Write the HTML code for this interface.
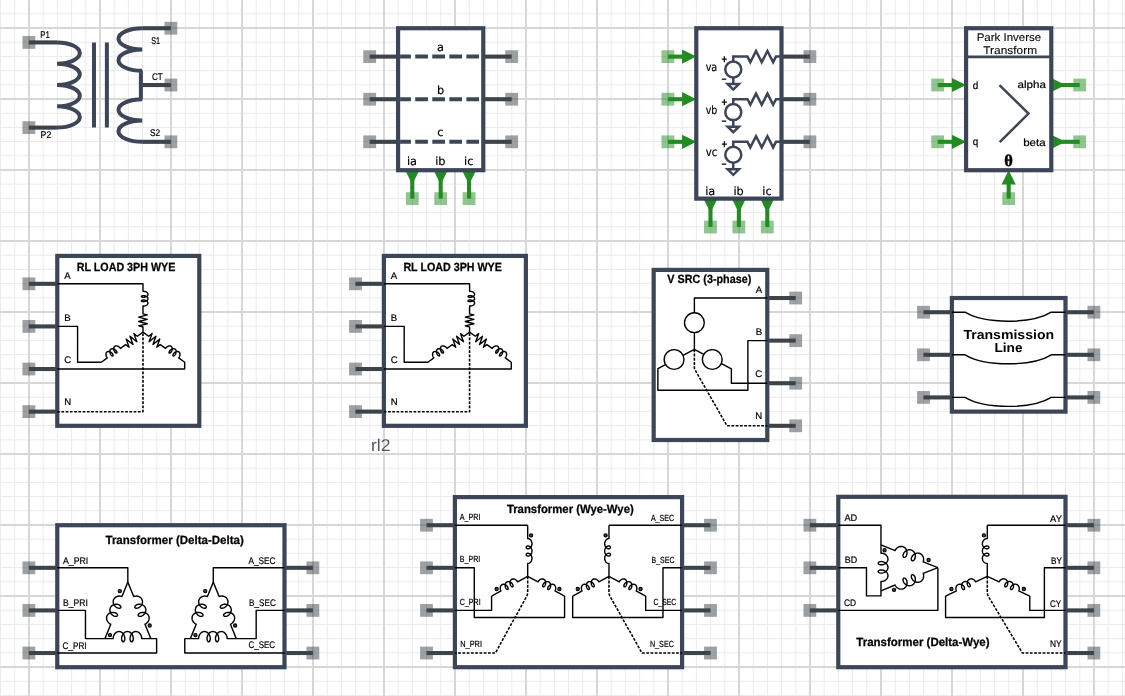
<!DOCTYPE html>
<html lang="en">
<head>
<meta charset="utf-8">
<title>Schematic components</title>
<style>
html,body{margin:0;padding:0;background:#fff;overflow:hidden}
svg{display:block;position:absolute;left:0;top:0;will-change:transform}
text{white-space:pre;text-rendering:geometricPrecision}
</style>
</head>
<body>
<svg width="1125" height="696" viewBox="0 0 1125 696">
<rect width="1125" height="696" fill="#fff"/>
<g shape-rendering="auto">
<path d="M0.6 0V696M14.8 0V696M43.2 0V696M57.4 0V696M71.6 0V696M85.8 0V696M114.2 0V696M128.4 0V696M142.6 0V696M156.8 0V696M185.2 0V696M199.4 0V696M213.6 0V696M227.8 0V696M256.2 0V696M270.4 0V696M284.6 0V696M298.8 0V696M327.2 0V696M341.4 0V696M355.6 0V696M369.8 0V696M398.2 0V696M412.4 0V696M426.6 0V696M440.8 0V696M469.2 0V696M483.4 0V696M497.6 0V696M511.8 0V696M540.2 0V696M554.4 0V696M568.6 0V696M582.8 0V696M611.2 0V696M625.4 0V696M639.6 0V696M653.8 0V696M682.2 0V696M696.4 0V696M710.6 0V696M724.8 0V696M753.2 0V696M767.4 0V696M781.6 0V696M795.8 0V696M824.2 0V696M838.4 0V696M852.6 0V696M866.8 0V696M895.2 0V696M909.4 0V696M923.6 0V696M937.8 0V696M966.2 0V696M980.4 0V696M994.6 0V696M1008.8 0V696M1037.2 0V696M1051.4 0V696M1065.6 0V696M1079.8 0V696M1108.2 0V696M1122.4 0V696M0 -0.4H1125M0 13.8H1125M0 42.2H1125M0 56.4H1125M0 70.6H1125M0 84.8H1125M0 113.2H1125M0 127.4H1125M0 141.6H1125M0 155.8H1125M0 184.2H1125M0 198.4H1125M0 212.6H1125M0 226.8H1125M0 255.2H1125M0 269.4H1125M0 283.6H1125M0 297.8H1125M0 326.2H1125M0 340.4H1125M0 354.6H1125M0 368.8H1125M0 397.2H1125M0 411.4H1125M0 425.6H1125M0 439.8H1125M0 468.2H1125M0 482.4H1125M0 496.6H1125M0 510.8H1125M0 539.2H1125M0 553.4H1125M0 567.6H1125M0 581.8H1125M0 610.2H1125M0 624.4H1125M0 638.6H1125M0 652.8H1125M0 681.2H1125M0 695.4H1125" stroke="#ebebeb" stroke-width="1" fill="none"/>
<path d="M-42 0V696M29 0V696M100 0V696M171 0V696M242 0V696M313 0V696M384 0V696M455 0V696M526 0V696M597 0V696M668 0V696M739 0V696M810 0V696M881 0V696M952 0V696M1023 0V696M1094 0V696M0 -43H1125M0 28H1125M0 99H1125M0 170H1125M0 241H1125M0 312H1125M0 383H1125M0 454H1125M0 525H1125M0 596H1125M0 667H1125" stroke="#d7d7d7" stroke-width="2" fill="none"/>
</g>
<g transform="translate(-0.12 0.22)">
<rect x="22.6" y="35.8" width="12.8" height="12.8" fill="#3c444a" fill-opacity="0.5"/>
<path d="M29 42.2L57.3 42.2" stroke="#3c444a" stroke-width="4.1" fill="none"/>
<rect x="22.6" y="121" width="12.8" height="12.8" fill="#3c444a" fill-opacity="0.5"/>
<path d="M29 127.4L57.3 127.4" stroke="#3c444a" stroke-width="4.1" fill="none"/>
<rect x="164.6" y="21.6" width="12.8" height="12.8" fill="#3c444a" fill-opacity="0.5"/>
<path d="M171 28L142.3 28" stroke="#3c444a" stroke-width="4.1" fill="none"/>
<rect x="164.6" y="78.4" width="12.8" height="12.8" fill="#3c444a" fill-opacity="0.5"/>
<path d="M171 84.8L141 84.8" stroke="#3c444a" stroke-width="4.1" fill="none"/>
<rect x="164.6" y="135.2" width="12.8" height="12.8" fill="#3c444a" fill-opacity="0.5"/>
<path d="M171 141.6L142.3 141.6" stroke="#3c444a" stroke-width="4.1" fill="none"/>
<path d="M57.2 42.2a22.7 10.65 0 0 1 0 21.3a22.7 10.65 0 0 1 0 21.3a22.7 10.65 0 0 1 0 21.3a22.7 10.65 0 0 1 0 21.3" fill="none" stroke="#3c4658" stroke-width="4.0"/>
<path d="M94.1 42.2V127.4M107 42.2V127.4" fill="none" stroke="#3c4658" stroke-width="4.0"/>
<path d="M142.4 28a23.8 10.65 0 0 0 0 21.3a23.8 10.65 0 0 0 0 21.3H141V99H142.4a23.8 10.65 0 0 0 0 21.3a23.8 10.65 0 0 0 0 21.3" fill="none" stroke="#3c4658" stroke-width="4.0" stroke-linejoin="miter"/>
<text transform="translate(40.4 37.6) scale(0.8096 1)" font-family="'Liberation Sans', sans-serif" font-size="9.7" stroke="#000" stroke-width="0.2" fill="#000">P1</text>
<text transform="translate(40.7 137.7) scale(0.9023 1)" font-family="'Liberation Sans', sans-serif" font-size="9.7" stroke="#000" stroke-width="0.2" fill="#000">P2</text>
<text transform="translate(151.3 43.8) scale(0.7505 1)" font-family="'Liberation Sans', sans-serif" font-size="9.7" stroke="#000" stroke-width="0.2" fill="#000">S1</text>
<text transform="translate(152 79.7) scale(0.8278 1)" font-family="'Liberation Sans', sans-serif" font-size="9.7" stroke="#000" stroke-width="0.2" fill="#000">CT</text>
<text transform="translate(150.2 136) scale(0.8517 1)" font-family="'Liberation Sans', sans-serif" font-size="9.7" stroke="#000" stroke-width="0.2" fill="#000">S2</text>
<rect x="363.4" y="50" width="12.8" height="12.8" fill="#3c444a" fill-opacity="0.5"/>
<path d="M369.8 56.4L398.2 56.4" stroke="#3c444a" stroke-width="4.1" fill="none"/>
<rect x="505.4" y="50" width="12.8" height="12.8" fill="#3c444a" fill-opacity="0.5"/>
<path d="M511.8 56.4L483.4 56.4" stroke="#3c444a" stroke-width="4.1" fill="none"/>
<rect x="363.4" y="92.6" width="12.8" height="12.8" fill="#3c444a" fill-opacity="0.5"/>
<path d="M369.8 99L398.2 99" stroke="#3c444a" stroke-width="4.1" fill="none"/>
<rect x="505.4" y="92.6" width="12.8" height="12.8" fill="#3c444a" fill-opacity="0.5"/>
<path d="M511.8 99L483.4 99" stroke="#3c444a" stroke-width="4.1" fill="none"/>
<rect x="363.4" y="135.2" width="12.8" height="12.8" fill="#3c444a" fill-opacity="0.5"/>
<path d="M369.8 141.6L398.2 141.6" stroke="#3c444a" stroke-width="4.1" fill="none"/>
<rect x="505.4" y="135.2" width="12.8" height="12.8" fill="#3c444a" fill-opacity="0.5"/>
<path d="M511.8 141.6L483.4 141.6" stroke="#3c444a" stroke-width="4.1" fill="none"/>
<rect x="406" y="192" width="12.8" height="12.8" fill="#228b22" fill-opacity="0.5"/>
<path d="M412.4 170L412.4 198.4" stroke="#228b22" stroke-width="4.1" fill="none"/>
<path d="M405.3 170L412.4 184.2L419.5 170Z" fill="#228b22"/>
<rect x="434.4" y="192" width="12.8" height="12.8" fill="#228b22" fill-opacity="0.5"/>
<path d="M440.8 170L440.8 198.4" stroke="#228b22" stroke-width="4.1" fill="none"/>
<path d="M433.7 170L440.8 184.2L447.9 170Z" fill="#228b22"/>
<rect x="462.8" y="192" width="12.8" height="12.8" fill="#228b22" fill-opacity="0.5"/>
<path d="M469.2 170L469.2 198.4" stroke="#228b22" stroke-width="4.1" fill="none"/>
<path d="M462.1 170L469.2 184.2L476.3 170Z" fill="#228b22"/>
<rect x="398.2" y="28" width="85.2" height="142" fill="#fff" stroke="#3c4658" stroke-width="4.2"/>
<path d="M400.2 56.4H481.4" stroke="#3c4658" stroke-width="4" stroke-dasharray="12.7 4.35" stroke-dashoffset="1.9" fill="none"/>
<text x="437.14" y="50.9" font-family="'DejaVu Sans', sans-serif" font-size="11.3" stroke="#000" stroke-width="0.18" fill="#000">a</text>
<path d="M400.2 99H481.4" stroke="#3c4658" stroke-width="4" stroke-dasharray="12.7 4.35" stroke-dashoffset="1.9" fill="none"/>
<text x="437.01" y="93.5" font-family="'DejaVu Sans', sans-serif" font-size="11.3" stroke="#000" stroke-width="0.18" fill="#000">b</text>
<path d="M400.2 141.6H481.4" stroke="#3c4658" stroke-width="4" stroke-dasharray="12.7 4.35" stroke-dashoffset="1.9" fill="none"/>
<text x="437.49" y="136.1" font-family="'DejaVu Sans', sans-serif" font-size="11.3" stroke="#000" stroke-width="0.18" fill="#000">c</text>
<text x="407.07" y="164.5" font-family="'DejaVu Sans', sans-serif" font-size="11.3" stroke="#000" stroke-width="0.18" fill="#000">ia</text>
<text x="435.34" y="164.5" font-family="'DejaVu Sans', sans-serif" font-size="11.3" stroke="#000" stroke-width="0.18" fill="#000">ib</text>
<text x="464.22" y="164.5" font-family="'DejaVu Sans', sans-serif" font-size="11.3" stroke="#000" stroke-width="0.18" fill="#000">ic</text>
<rect x="661.6" y="50" width="12.8" height="12.8" fill="#228b22" fill-opacity="0.5"/>
<path d="M668 56.4L683.2 56.4" stroke="#228b22" stroke-width="4.1" fill="none"/>
<path d="M682.2 63.5L696.4 56.4L682.2 49.3Z" fill="#228b22"/>
<rect x="803.6" y="50" width="12.8" height="12.8" fill="#3c444a" fill-opacity="0.5"/>
<path d="M810 56.4L781.6 56.4" stroke="#3c444a" stroke-width="4.1" fill="none"/>
<rect x="661.6" y="92.6" width="12.8" height="12.8" fill="#228b22" fill-opacity="0.5"/>
<path d="M668 99L683.2 99" stroke="#228b22" stroke-width="4.1" fill="none"/>
<path d="M682.2 106.1L696.4 99L682.2 91.9Z" fill="#228b22"/>
<rect x="803.6" y="92.6" width="12.8" height="12.8" fill="#3c444a" fill-opacity="0.5"/>
<path d="M810 99L781.6 99" stroke="#3c444a" stroke-width="4.1" fill="none"/>
<rect x="661.6" y="135.2" width="12.8" height="12.8" fill="#228b22" fill-opacity="0.5"/>
<path d="M668 141.6L683.2 141.6" stroke="#228b22" stroke-width="4.1" fill="none"/>
<path d="M682.2 148.7L696.4 141.6L682.2 134.5Z" fill="#228b22"/>
<rect x="803.6" y="135.2" width="12.8" height="12.8" fill="#3c444a" fill-opacity="0.5"/>
<path d="M810 141.6L781.6 141.6" stroke="#3c444a" stroke-width="4.1" fill="none"/>
<rect x="704.2" y="220.4" width="12.8" height="12.8" fill="#228b22" fill-opacity="0.5"/>
<path d="M710.6 198.4L710.6 226.8" stroke="#228b22" stroke-width="4.1" fill="none"/>
<path d="M703.5 198.4L710.6 212.6L717.7 198.4Z" fill="#228b22"/>
<rect x="732.6" y="220.4" width="12.8" height="12.8" fill="#228b22" fill-opacity="0.5"/>
<path d="M739 198.4L739 226.8" stroke="#228b22" stroke-width="4.1" fill="none"/>
<path d="M731.9 198.4L739 212.6L746.1 198.4Z" fill="#228b22"/>
<rect x="761" y="220.4" width="12.8" height="12.8" fill="#228b22" fill-opacity="0.5"/>
<path d="M767.4 198.4L767.4 226.8" stroke="#228b22" stroke-width="4.1" fill="none"/>
<path d="M760.3 198.4L767.4 212.6L774.5 198.4Z" fill="#228b22"/>
<rect x="696.4" y="28" width="85.2" height="170.4" fill="#fff" stroke="#3c4658" stroke-width="4.2"/>
<circle cx="733.4" cy="69.3" r="8" fill="none" stroke="#3c4658" stroke-width="2.5"/>
<path d="M733.4 61.3V56.4H747.6L750.45 62L756.15 50.8L761.85 62L767.55 50.8L773.25 62L776.1 56.4H781.6" fill="none" stroke="#3c4658" stroke-width="2.5" stroke-linejoin="miter"/>
<path d="M733.4 77.3V84.1" fill="none" stroke="#3c4658" stroke-width="2.5"/>
<path d="M727.8 83.9H739L733.4 89.4Z" fill="#fff" stroke="#3c4658" stroke-width="2.5" stroke-linejoin="miter"/>
<text transform="translate(721.65 63.06) scale(0.8400 1)" font-family="'Liberation Sans', sans-serif" font-size="11.6" font-weight="bold" stroke="#000" stroke-width="0.15" fill="#000">+</text>
<text transform="translate(721.7 82.35) scale(0.7368 1)" font-family="'Liberation Sans', sans-serif" font-size="11.6" font-weight="bold" stroke="#000" stroke-width="0.15" fill="#000">−</text>
<text transform="translate(705.8 70.7) scale(0.8299 1)" font-family="'DejaVu Sans', sans-serif" font-size="11.6" stroke="#000" stroke-width="0.2" fill="#000">va</text>
<circle cx="733.4" cy="111.9" r="8" fill="none" stroke="#3c4658" stroke-width="2.5"/>
<path d="M733.4 103.9V99H747.6L750.45 104.6L756.15 93.4L761.85 104.6L767.55 93.4L773.25 104.6L776.1 99H781.6" fill="none" stroke="#3c4658" stroke-width="2.5" stroke-linejoin="miter"/>
<path d="M733.4 119.9V126.7" fill="none" stroke="#3c4658" stroke-width="2.5"/>
<path d="M727.8 126.5H739L733.4 132Z" fill="#fff" stroke="#3c4658" stroke-width="2.5" stroke-linejoin="miter"/>
<text transform="translate(721.65 105.66) scale(0.8400 1)" font-family="'Liberation Sans', sans-serif" font-size="11.6" font-weight="bold" stroke="#000" stroke-width="0.15" fill="#000">+</text>
<text transform="translate(721.7 124.95) scale(0.7368 1)" font-family="'Liberation Sans', sans-serif" font-size="11.6" font-weight="bold" stroke="#000" stroke-width="0.15" fill="#000">−</text>
<text transform="translate(705.8 113.3) scale(0.8147 1)" font-family="'DejaVu Sans', sans-serif" font-size="11.6" stroke="#000" stroke-width="0.2" fill="#000">vb</text>
<circle cx="733.4" cy="154.5" r="8" fill="none" stroke="#3c4658" stroke-width="2.5"/>
<path d="M733.4 146.5V141.6H747.6L750.45 147.2L756.15 136L761.85 147.2L767.55 136L773.25 147.2L776.1 141.6H781.6" fill="none" stroke="#3c4658" stroke-width="2.5" stroke-linejoin="miter"/>
<path d="M733.4 162.5V169.3" fill="none" stroke="#3c4658" stroke-width="2.5"/>
<path d="M727.8 169.1H739L733.4 174.6Z" fill="#fff" stroke="#3c4658" stroke-width="2.5" stroke-linejoin="miter"/>
<text transform="translate(721.65 148.26) scale(0.8400 1)" font-family="'Liberation Sans', sans-serif" font-size="11.6" font-weight="bold" stroke="#000" stroke-width="0.15" fill="#000">+</text>
<text transform="translate(721.7 167.55) scale(0.7368 1)" font-family="'Liberation Sans', sans-serif" font-size="11.6" font-weight="bold" stroke="#000" stroke-width="0.15" fill="#000">−</text>
<text transform="translate(705.8 155.9) scale(0.8753 1)" font-family="'DejaVu Sans', sans-serif" font-size="11.6" stroke="#000" stroke-width="0.2" fill="#000">vc</text>
<text x="705.27" y="194.8" font-family="'DejaVu Sans', sans-serif" font-size="11.3" stroke="#000" stroke-width="0.18" fill="#000">ia</text>
<text x="733.54" y="194.8" font-family="'DejaVu Sans', sans-serif" font-size="11.3" stroke="#000" stroke-width="0.18" fill="#000">ib</text>
<text x="762.42" y="194.8" font-family="'DejaVu Sans', sans-serif" font-size="11.3" stroke="#000" stroke-width="0.18" fill="#000">ic</text>
<rect x="931.4" y="78.4" width="12.8" height="12.8" fill="#228b22" fill-opacity="0.5"/>
<path d="M937.8 84.8L953 84.8" stroke="#228b22" stroke-width="4.1" fill="none"/>
<path d="M952 91.9L966.2 84.8L952 77.7Z" fill="#228b22"/>
<rect x="1073.4" y="78.4" width="12.8" height="12.8" fill="#228b22" fill-opacity="0.5"/>
<path d="M1051.4 84.8L1079.8 84.8" stroke="#228b22" stroke-width="4.1" fill="none"/>
<path d="M1051.4 91.9L1065.6 84.8L1051.4 77.7Z" fill="#228b22"/>
<rect x="931.4" y="135.2" width="12.8" height="12.8" fill="#228b22" fill-opacity="0.5"/>
<path d="M937.8 141.6L953 141.6" stroke="#228b22" stroke-width="4.1" fill="none"/>
<path d="M952 148.7L966.2 141.6L952 134.5Z" fill="#228b22"/>
<rect x="1073.4" y="135.2" width="12.8" height="12.8" fill="#228b22" fill-opacity="0.5"/>
<path d="M1051.4 141.6L1079.8 141.6" stroke="#228b22" stroke-width="4.1" fill="none"/>
<path d="M1051.4 148.7L1065.6 141.6L1051.4 134.5Z" fill="#228b22"/>
<rect x="1002.4" y="192" width="12.8" height="12.8" fill="#228b22" fill-opacity="0.5"/>
<path d="M1008.8 198.4L1008.8 183.2" stroke="#228b22" stroke-width="4.1" fill="none"/>
<path d="M1015.9 184.2L1008.8 170L1001.7 184.2Z" fill="#228b22"/>
<rect x="966.2" y="28" width="85.2" height="142" fill="#fff" stroke="#3c4658" stroke-width="4.2"/>
<path d="M966.2 56.6H1051.4" stroke="#3c4658" stroke-width="2.8" fill="none"/>
<path d="M999.6 85L1028.6 113.3L999.8 142" stroke="#3c4658" stroke-width="2.5" fill="none" stroke-linejoin="miter"/>
<text transform="translate(976.8 41.2) scale(1.0277 1)" font-family="'Liberation Sans', sans-serif" font-size="11.2" stroke="#000" stroke-width="0.08" fill="#000">Park Inverse</text>
<text transform="translate(983.4 53.6) scale(1.0647 1)" font-family="'Liberation Sans', sans-serif" font-size="11.2" stroke="#000" stroke-width="0.08" fill="#000">Transform</text>
<text transform="translate(972.8 88.6) scale(0.9529 1)" font-family="'Liberation Sans', sans-serif" font-size="10.4" stroke="#000" stroke-width="0.2" fill="#000">d</text>
<text transform="translate(972.8 144.4) scale(0.9529 1)" font-family="'Liberation Sans', sans-serif" font-size="10.4" stroke="#000" stroke-width="0.2" fill="#000">q</text>
<text transform="translate(1017.6 87.9) scale(1.1157 1)" font-family="'Liberation Sans', sans-serif" font-size="10.4" stroke="#000" stroke-width="0.2" fill="#000">alpha</text>
<text transform="translate(1023.3 145.4) scale(1.1060 1)" font-family="'Liberation Sans', sans-serif" font-size="10.4" stroke="#000" stroke-width="0.2" fill="#000">beta</text>
<text x="1004.39" y="165.8" font-family="'Liberation Serif', serif" font-size="16.5" font-weight="bold" stroke="#000" stroke-width="0.45" fill="#000">θ</text>
<rect x="22.6" y="277.2" width="12.8" height="12.8" fill="#3c444a" fill-opacity="0.5"/>
<path d="M29 283.6L57.4 283.6" stroke="#3c444a" stroke-width="4.1" fill="none"/>
<rect x="22.6" y="319.8" width="12.8" height="12.8" fill="#3c444a" fill-opacity="0.5"/>
<path d="M29 326.2L57.4 326.2" stroke="#3c444a" stroke-width="4.1" fill="none"/>
<rect x="22.6" y="362.4" width="12.8" height="12.8" fill="#3c444a" fill-opacity="0.5"/>
<path d="M29 368.8L57.4 368.8" stroke="#3c444a" stroke-width="4.1" fill="none"/>
<rect x="22.6" y="405" width="12.8" height="12.8" fill="#3c444a" fill-opacity="0.5"/>
<path d="M29 411.4L57.4 411.4" stroke="#3c444a" stroke-width="4.1" fill="none"/>
<rect x="57.4" y="255.7" width="142" height="169.9" fill="#fff" stroke="#3c4658" stroke-width="4.2"/>
<path d="M57.4 283.6L143.1 283.6L143.1 291.1L143.1 291.1L143.7 291.08L144.33 291.14L144.99 291.26L145.64 291.46L146.26 291.72L146.82 292.05L147.3 292.43L147.68 292.87L147.94 293.33L148.08 293.82L148.09 294.32L147.97 294.81L147.72 295.28L147.35 295.72L146.89 296.11L146.34 296.45L145.73 296.72L145.08 296.92L144.42 297.06L143.78 297.12L143.18 297.11L142.64 297.04L142.19 296.92L141.84 296.75L141.61 296.56L141.51 296.34L141.53 296.12L141.69 295.91L141.97 295.72L142.37 295.57L142.86 295.47L143.43 295.43L144.05 295.45L144.71 295.55L145.36 295.71L146 295.94L146.58 296.25L147.1 296.61L147.52 297.02L147.84 297.47L148.03 297.95L148.1 298.45L148.03 298.95L147.84 299.43L147.52 299.88L147.1 300.29L146.58 300.65L146 300.96L145.36 301.19L144.71 301.35L144.05 301.45L143.43 301.47L142.86 301.43L142.37 301.33L141.97 301.18L141.69 300.99L141.53 300.78L141.51 300.56L141.61 300.34L141.84 300.15L142.19 299.98L142.64 299.86L143.18 299.79L143.78 299.78L144.42 299.84L145.08 299.98L145.73 300.18L146.34 300.45L146.89 300.79L147.35 301.18L147.72 301.62L147.97 302.09L148.09 302.58L148.08 303.08L147.94 303.57L147.68 304.03L147.3 304.47L146.82 304.85L146.26 305.18L145.64 305.44L144.99 305.64L144.33 305.76L143.7 305.82L143.1 305.8L143.1 313.6L143.1 313.6L147.4 314.7L138.8 316.9L147.4 319.1L138.8 321.3L147.4 323.5L138.8 325.7L143.1 326.8L143.1 331.9" fill="none" stroke="#000" stroke-width="1.4" stroke-linejoin="round"/>
<path d="M143.1 331.9L137.43 335.99L134 333.29L136.99 341.49L130.14 336.07L133.12 344.28L126.28 338.86L129.26 347.07L125.84 344.36L120.5 348.21L120.5 348.21L120.16 347.72L119.74 347.24L119.25 346.78L118.69 346.38L118.1 346.05L117.48 345.81L116.85 345.67L116.25 345.64L115.68 345.73L115.16 345.93L114.71 346.24L114.35 346.65L114.07 347.16L113.9 347.74L113.82 348.36L113.84 349.03L113.96 349.7L114.15 350.35L114.42 350.97L114.74 351.53L115.1 352.02L115.48 352.41L115.85 352.7L116.2 352.87L116.51 352.93L116.77 352.88L116.94 352.71L117.04 352.45L117.04 352.1L116.94 351.68L116.74 351.22L116.45 350.73L116.06 350.24L115.6 349.77L115.07 349.34L114.49 348.98L113.88 348.7L113.25 348.51L112.64 348.43L112.05 348.47L111.51 348.62L111.03 348.89L110.62 349.26L110.31 349.72L110.09 350.27L109.97 350.88L109.95 351.53L110.02 352.2L110.19 352.87L110.42 353.5L110.72 354.09L111.07 354.61L111.44 355.05L111.82 355.38L112.18 355.61L112.51 355.72L112.79 355.71L113 355.59L113.14 355.37L113.18 355.05L113.12 354.67L112.97 354.22L112.72 353.74L112.37 353.25L111.94 352.76L111.43 352.32L110.87 351.92L110.27 351.6L109.65 351.37L109.03 351.25L108.43 351.23L107.86 351.34L107.35 351.55L106.91 351.88L106.56 352.31L106.3 352.82L106.14 353.41L106.07 354.04L106.11 354.7L106.23 355.37L106.44 356.03L106.72 356.64L107.04 357.19L107.4 357.67L101.4 362L77.7 362L77.7 326.2L57.4 326.2" fill="none" stroke="#000" stroke-width="1.4" stroke-linejoin="round"/>
<path d="M143.1 331.9L148.77 335.99L152.2 333.29L149.21 341.49L156.06 336.07L153.08 344.28L159.92 338.86L156.94 347.07L160.36 344.36L165.7 348.21L165.7 348.21L166.04 347.72L166.46 347.24L166.95 346.78L167.51 346.38L168.1 346.05L168.72 345.81L169.35 345.67L169.95 345.64L170.52 345.73L171.04 345.93L171.49 346.24L171.85 346.65L172.13 347.16L172.3 347.74L172.38 348.36L172.36 349.03L172.24 349.7L172.05 350.35L171.78 350.97L171.46 351.53L171.1 352.02L170.72 352.41L170.35 352.7L170 352.87L169.69 352.93L169.43 352.88L169.26 352.71L169.16 352.45L169.16 352.1L169.26 351.68L169.46 351.22L169.75 350.73L170.14 350.24L170.6 349.77L171.13 349.34L171.71 348.98L172.32 348.7L172.95 348.51L173.56 348.43L174.15 348.47L174.69 348.62L175.17 348.89L175.58 349.26L175.89 349.72L176.11 350.27L176.23 350.88L176.25 351.53L176.18 352.2L176.01 352.87L175.78 353.5L175.48 354.09L175.13 354.61L174.76 355.05L174.38 355.38L174.02 355.61L173.69 355.72L173.41 355.71L173.2 355.59L173.06 355.37L173.02 355.05L173.08 354.67L173.23 354.22L173.48 353.74L173.83 353.25L174.26 352.76L174.77 352.32L175.33 351.92L175.93 351.6L176.55 351.37L177.17 351.25L177.77 351.23L178.34 351.34L178.85 351.55L179.29 351.88L179.64 352.31L179.9 352.82L180.06 353.41L180.13 354.04L180.09 354.7L179.97 355.37L179.76 356.03L179.48 356.64L179.16 357.19L178.8 357.67L184.8 362L184.8 368.8L57.4 368.8" fill="none" stroke="#000" stroke-width="1.4" stroke-linejoin="round"/>
<path d="M143.1 333.1V411.5H57.4" fill="none" stroke="#000" stroke-width="1.6" stroke-linejoin="round" stroke-dasharray="2.75 1.5"/>
<text transform="translate(76.9 270.7) scale(0.9001 1)" font-family="'Liberation Sans', sans-serif" font-size="11.9" font-weight="bold" stroke="#000" stroke-width="0.25" fill="#000">RL LOAD 3PH WYE</text>
<text transform="translate(64.3 278.8) scale(1.0000 1)" font-family="'Liberation Sans', sans-serif" font-size="9.6" stroke="#000" stroke-width="0.2" fill="#000">A</text>
<text transform="translate(64.3 321.1) scale(1.0000 1)" font-family="'Liberation Sans', sans-serif" font-size="9.6" stroke="#000" stroke-width="0.2" fill="#000">B</text>
<text transform="translate(64.3 362.7) scale(1.0000 1)" font-family="'Liberation Sans', sans-serif" font-size="9.6" stroke="#000" stroke-width="0.2" fill="#000">C</text>
<text transform="translate(64.3 404.5) scale(1.0000 1)" font-family="'Liberation Sans', sans-serif" font-size="9.6" stroke="#000" stroke-width="0.2" fill="#000">N</text>
<rect x="349.2" y="277.2" width="12.8" height="12.8" fill="#3c444a" fill-opacity="0.5"/>
<path d="M355.6 283.6L384 283.6" stroke="#3c444a" stroke-width="4.1" fill="none"/>
<rect x="349.2" y="319.8" width="12.8" height="12.8" fill="#3c444a" fill-opacity="0.5"/>
<path d="M355.6 326.2L384 326.2" stroke="#3c444a" stroke-width="4.1" fill="none"/>
<rect x="349.2" y="362.4" width="12.8" height="12.8" fill="#3c444a" fill-opacity="0.5"/>
<path d="M355.6 368.8L384 368.8" stroke="#3c444a" stroke-width="4.1" fill="none"/>
<rect x="349.2" y="405" width="12.8" height="12.8" fill="#3c444a" fill-opacity="0.5"/>
<path d="M355.6 411.4L384 411.4" stroke="#3c444a" stroke-width="4.1" fill="none"/>
<rect x="384" y="255.7" width="142" height="169.9" fill="#fff" stroke="#3c4658" stroke-width="4.2"/>
<path d="M384 283.6L469.7 283.6L469.7 291.1L469.7 291.1L470.3 291.08L470.93 291.14L471.59 291.26L472.24 291.46L472.86 291.72L473.42 292.05L473.9 292.43L474.28 292.87L474.54 293.33L474.68 293.82L474.69 294.32L474.57 294.81L474.32 295.28L473.95 295.72L473.49 296.11L472.94 296.45L472.33 296.72L471.68 296.92L471.02 297.06L470.38 297.12L469.78 297.11L469.24 297.04L468.79 296.92L468.44 296.75L468.21 296.56L468.11 296.34L468.13 296.12L468.29 295.91L468.57 295.72L468.97 295.57L469.46 295.47L470.03 295.43L470.65 295.45L471.31 295.55L471.96 295.71L472.6 295.94L473.18 296.25L473.7 296.61L474.12 297.02L474.44 297.47L474.63 297.95L474.7 298.45L474.63 298.95L474.44 299.43L474.12 299.88L473.7 300.29L473.18 300.65L472.6 300.96L471.96 301.19L471.31 301.35L470.65 301.45L470.03 301.47L469.46 301.43L468.97 301.33L468.57 301.18L468.29 300.99L468.13 300.78L468.11 300.56L468.21 300.34L468.44 300.15L468.79 299.98L469.24 299.86L469.78 299.79L470.38 299.78L471.02 299.84L471.68 299.98L472.33 300.18L472.94 300.45L473.49 300.79L473.95 301.18L474.32 301.62L474.57 302.09L474.69 302.58L474.68 303.08L474.54 303.57L474.28 304.03L473.9 304.47L473.42 304.85L472.86 305.18L472.24 305.44L471.59 305.64L470.93 305.76L470.3 305.82L469.7 305.8L469.7 313.6L469.7 313.6L474 314.7L465.4 316.9L474 319.1L465.4 321.3L474 323.5L465.4 325.7L469.7 326.8L469.7 331.9" fill="none" stroke="#000" stroke-width="1.4" stroke-linejoin="round"/>
<path d="M469.7 331.9L464.03 335.99L460.6 333.29L463.59 341.49L456.74 336.07L459.72 344.28L452.88 338.86L455.86 347.07L452.44 344.36L447.1 348.21L447.1 348.21L446.76 347.72L446.34 347.24L445.85 346.78L445.29 346.38L444.7 346.05L444.08 345.81L443.45 345.67L442.85 345.64L442.28 345.73L441.76 345.93L441.31 346.24L440.95 346.65L440.67 347.16L440.5 347.74L440.42 348.36L440.44 349.03L440.56 349.7L440.75 350.35L441.02 350.97L441.34 351.53L441.7 352.02L442.08 352.41L442.45 352.7L442.8 352.87L443.11 352.93L443.37 352.88L443.54 352.71L443.64 352.45L443.64 352.1L443.54 351.68L443.34 351.22L443.05 350.73L442.66 350.24L442.2 349.77L441.67 349.34L441.09 348.98L440.48 348.7L439.85 348.51L439.24 348.43L438.65 348.47L438.11 348.62L437.63 348.89L437.22 349.26L436.91 349.72L436.69 350.27L436.57 350.88L436.55 351.53L436.62 352.2L436.79 352.87L437.02 353.5L437.32 354.09L437.67 354.61L438.04 355.05L438.42 355.38L438.78 355.61L439.11 355.72L439.39 355.71L439.6 355.59L439.74 355.37L439.78 355.05L439.72 354.67L439.57 354.22L439.32 353.74L438.97 353.25L438.54 352.76L438.03 352.32L437.47 351.92L436.87 351.6L436.25 351.37L435.63 351.25L435.03 351.23L434.46 351.34L433.95 351.55L433.51 351.88L433.16 352.31L432.9 352.82L432.74 353.41L432.67 354.04L432.71 354.7L432.83 355.37L433.04 356.03L433.32 356.64L433.64 357.19L434 357.67L428 362L404.3 362L404.3 326.2L384 326.2" fill="none" stroke="#000" stroke-width="1.4" stroke-linejoin="round"/>
<path d="M469.7 331.9L475.37 335.99L478.8 333.29L475.81 341.49L482.66 336.07L479.68 344.28L486.52 338.86L483.54 347.07L486.96 344.36L492.3 348.21L492.3 348.21L492.64 347.72L493.06 347.24L493.55 346.78L494.11 346.38L494.7 346.05L495.32 345.81L495.95 345.67L496.55 345.64L497.12 345.73L497.64 345.93L498.09 346.24L498.45 346.65L498.73 347.16L498.9 347.74L498.98 348.36L498.96 349.03L498.84 349.7L498.65 350.35L498.38 350.97L498.06 351.53L497.7 352.02L497.32 352.41L496.95 352.7L496.6 352.87L496.29 352.93L496.03 352.88L495.86 352.71L495.76 352.45L495.76 352.1L495.86 351.68L496.06 351.22L496.35 350.73L496.74 350.24L497.2 349.77L497.73 349.34L498.31 348.98L498.92 348.7L499.55 348.51L500.16 348.43L500.75 348.47L501.29 348.62L501.77 348.89L502.18 349.26L502.49 349.72L502.71 350.27L502.83 350.88L502.85 351.53L502.78 352.2L502.61 352.87L502.38 353.5L502.08 354.09L501.73 354.61L501.36 355.05L500.98 355.38L500.62 355.61L500.29 355.72L500.01 355.71L499.8 355.59L499.66 355.37L499.62 355.05L499.68 354.67L499.83 354.22L500.08 353.74L500.43 353.25L500.86 352.76L501.37 352.32L501.93 351.92L502.53 351.6L503.15 351.37L503.77 351.25L504.37 351.23L504.94 351.34L505.45 351.55L505.89 351.88L506.24 352.31L506.5 352.82L506.66 353.41L506.73 354.04L506.69 354.7L506.57 355.37L506.36 356.03L506.08 356.64L505.76 357.19L505.4 357.67L511.4 362L511.4 368.8L384 368.8" fill="none" stroke="#000" stroke-width="1.4" stroke-linejoin="round"/>
<path d="M469.7 333.1V411.5H384" fill="none" stroke="#000" stroke-width="1.6" stroke-linejoin="round" stroke-dasharray="2.75 1.5"/>
<text transform="translate(403.5 270.7) scale(0.9001 1)" font-family="'Liberation Sans', sans-serif" font-size="11.9" font-weight="bold" stroke="#000" stroke-width="0.25" fill="#000">RL LOAD 3PH WYE</text>
<text transform="translate(390.9 278.8) scale(1.0000 1)" font-family="'Liberation Sans', sans-serif" font-size="9.6" stroke="#000" stroke-width="0.2" fill="#000">A</text>
<text transform="translate(390.9 321.1) scale(1.0000 1)" font-family="'Liberation Sans', sans-serif" font-size="9.6" stroke="#000" stroke-width="0.2" fill="#000">B</text>
<text transform="translate(390.9 362.7) scale(1.0000 1)" font-family="'Liberation Sans', sans-serif" font-size="9.6" stroke="#000" stroke-width="0.2" fill="#000">C</text>
<text transform="translate(390.9 404.5) scale(1.0000 1)" font-family="'Liberation Sans', sans-serif" font-size="9.6" stroke="#000" stroke-width="0.2" fill="#000">N</text>
<rect x="789.4" y="291.4" width="12.8" height="12.8" fill="#3c444a" fill-opacity="0.5"/>
<path d="M795.8 297.8L767.4 297.8" stroke="#3c444a" stroke-width="4.1" fill="none"/>
<rect x="789.4" y="334" width="12.8" height="12.8" fill="#3c444a" fill-opacity="0.5"/>
<path d="M795.8 340.4L767.4 340.4" stroke="#3c444a" stroke-width="4.1" fill="none"/>
<rect x="789.4" y="376.6" width="12.8" height="12.8" fill="#3c444a" fill-opacity="0.5"/>
<path d="M795.8 383L767.4 383" stroke="#3c444a" stroke-width="4.1" fill="none"/>
<rect x="789.4" y="419.2" width="12.8" height="12.8" fill="#3c444a" fill-opacity="0.5"/>
<path d="M795.8 425.6L767.4 425.6" stroke="#3c444a" stroke-width="4.1" fill="none"/>
<rect x="653.8" y="269.7" width="113.6" height="170.1" fill="#fff" stroke="#3c4658" stroke-width="4.2"/>
<path d="M767.4 297.8H694.5V349.1" fill="none" stroke="#000" stroke-width="1.4" stroke-linejoin="round"/>
<path d="M694.5 349.1L658 368.3V390.1H748V340.4H767.4" fill="none" stroke="#000" stroke-width="1.4" stroke-linejoin="round"/>
<path d="M694.5 349.1L731.5 368.6V383H767.4" fill="none" stroke="#000" stroke-width="1.4" stroke-linejoin="round"/>
<path d="M694.5 349.1V367.3Q694.5 368.5 695.2 369.7L727.1 425.6H767.4" fill="none" stroke="#000" stroke-width="1.55" stroke-linejoin="round" stroke-dasharray="2.84 1.42"/>
<circle cx="694.5" cy="322.5" r="9.9" fill="#fff" stroke="#000" stroke-width="1.4"/>
<circle cx="674.2" cy="359.3" r="9.9" fill="#fff" stroke="#000" stroke-width="1.4"/>
<circle cx="712.4" cy="359.3" r="9.9" fill="#fff" stroke="#000" stroke-width="1.4"/>
<text transform="translate(667.4 283) scale(0.9084 1)" font-family="'Liberation Sans', sans-serif" font-size="11.9" font-weight="bold" stroke="#000" stroke-width="0.25" fill="#000">V SRC (3-phase)</text>
<text transform="translate(755.89 292.7) scale(1.0000 1)" font-family="'Liberation Sans', sans-serif" font-size="9.6" stroke="#000" stroke-width="0.2" fill="#000">A</text>
<text transform="translate(755.89 334.6) scale(1.0000 1)" font-family="'Liberation Sans', sans-serif" font-size="9.6" stroke="#000" stroke-width="0.2" fill="#000">B</text>
<text transform="translate(755.36 376.7) scale(1.0000 1)" font-family="'Liberation Sans', sans-serif" font-size="9.6" stroke="#000" stroke-width="0.2" fill="#000">C</text>
<text transform="translate(755.36 418.5) scale(1.0000 1)" font-family="'Liberation Sans', sans-serif" font-size="9.6" stroke="#000" stroke-width="0.2" fill="#000">N</text>
<rect x="917.2" y="305.6" width="12.8" height="12.8" fill="#3c444a" fill-opacity="0.5"/>
<path d="M923.6 312L952 312" stroke="#3c444a" stroke-width="4.1" fill="none"/>
<rect x="1087.6" y="305.6" width="12.8" height="12.8" fill="#3c444a" fill-opacity="0.5"/>
<path d="M1094 312L1065.6 312" stroke="#3c444a" stroke-width="4.1" fill="none"/>
<rect x="917.2" y="348.2" width="12.8" height="12.8" fill="#3c444a" fill-opacity="0.5"/>
<path d="M923.6 354.6L952 354.6" stroke="#3c444a" stroke-width="4.1" fill="none"/>
<rect x="1087.6" y="348.2" width="12.8" height="12.8" fill="#3c444a" fill-opacity="0.5"/>
<path d="M1094 354.6L1065.6 354.6" stroke="#3c444a" stroke-width="4.1" fill="none"/>
<rect x="917.2" y="390.8" width="12.8" height="12.8" fill="#3c444a" fill-opacity="0.5"/>
<path d="M923.6 397.2L952 397.2" stroke="#3c444a" stroke-width="4.1" fill="none"/>
<rect x="1087.6" y="390.8" width="12.8" height="12.8" fill="#3c444a" fill-opacity="0.5"/>
<path d="M1094 397.2L1065.6 397.2" stroke="#3c444a" stroke-width="4.1" fill="none"/>
<rect x="952" y="297.8" width="113.6" height="113.6" fill="#fff" stroke="#3c4658" stroke-width="4.2"/>
<path d="M952 312H965.2C985 324 1032 324 1051.4 312H1065.6" fill="none" stroke="#000" stroke-width="1.4" stroke-linejoin="round"/>
<path d="M952 354.6H965.2C985 366.6 1032 366.6 1051.4 354.6H1065.6" fill="none" stroke="#000" stroke-width="1.4" stroke-linejoin="round"/>
<path d="M952 397.2H965.2C985 409.2 1032 409.2 1051.4 397.2H1065.6" fill="none" stroke="#000" stroke-width="1.4" stroke-linejoin="round"/>
<text transform="translate(963.5 338.3) scale(1.0821 1)" font-family="'Liberation Sans', sans-serif" font-size="13" font-weight="bold" fill="#000">Transmission</text>
<text transform="translate(994.5 352.1) scale(1.0518 1)" font-family="'Liberation Sans', sans-serif" font-size="13" font-weight="bold" fill="#000">Line</text>
<text transform="translate(371.1 450.9) scale(1.0311 1)" font-family="'Liberation Sans', sans-serif" font-size="17" fill="#4a5764">rl2</text>
<rect x="22.6" y="561.2" width="12.8" height="12.8" fill="#3c444a" fill-opacity="0.5"/>
<path d="M29 567.6L57.4 567.6" stroke="#3c444a" stroke-width="4.1" fill="none"/>
<rect x="306.6" y="561.2" width="12.8" height="12.8" fill="#3c444a" fill-opacity="0.5"/>
<path d="M313 567.6L284.6 567.6" stroke="#3c444a" stroke-width="4.1" fill="none"/>
<rect x="22.6" y="603.8" width="12.8" height="12.8" fill="#3c444a" fill-opacity="0.5"/>
<path d="M29 610.2L57.4 610.2" stroke="#3c444a" stroke-width="4.1" fill="none"/>
<rect x="306.6" y="603.8" width="12.8" height="12.8" fill="#3c444a" fill-opacity="0.5"/>
<path d="M313 610.2L284.6 610.2" stroke="#3c444a" stroke-width="4.1" fill="none"/>
<rect x="22.6" y="646.4" width="12.8" height="12.8" fill="#3c444a" fill-opacity="0.5"/>
<path d="M29 652.8L57.4 652.8" stroke="#3c444a" stroke-width="4.1" fill="none"/>
<rect x="306.6" y="646.4" width="12.8" height="12.8" fill="#3c444a" fill-opacity="0.5"/>
<path d="M313 652.8L284.6 652.8" stroke="#3c444a" stroke-width="4.1" fill="none"/>
<rect x="57.4" y="525" width="227.2" height="142" fill="#fff" stroke="#3c4658" stroke-width="4.2"/>
<path d="M127.95 581.9L122.11 596.31L122.11 596.31L121.25 596.04L120.3 595.88L119.3 595.85L118.29 595.97L117.29 596.23L116.35 596.64L115.49 597.19L114.74 597.86L114.13 598.65L113.68 599.53L113.4 600.48L113.3 601.47L113.38 602.48L113.62 603.47L114.03 604.42L114.57 605.29L115.22 606.07L115.96 606.74L116.75 607.28L117.56 607.68L118.35 607.93L119.09 608.03L119.75 608L120.29 607.83L120.69 607.56L120.94 607.19L121.01 606.75L120.91 606.27L120.63 605.77L120.18 605.29L119.57 604.85L118.83 604.49L117.97 604.21L117.02 604.05L116.02 604.02L115.01 604.13L114.01 604.39L113.07 604.79L112.2 605.33L111.45 606.01L110.84 606.79L110.38 607.67L110.1 608.62L109.99 609.61L110.06 610.62L110.3 611.61L110.7 612.55L111.24 613.43L111.89 614.22L112.63 614.89L113.42 615.43L114.23 615.84L115.02 616.09L115.76 616.2L116.42 616.17L116.96 616.01L117.37 615.74L117.62 615.37L117.7 614.93L117.61 614.45L117.33 613.95L116.89 613.47L116.28 613.03L115.54 612.66L114.68 612.39L113.74 612.22L112.75 612.19L111.73 612.29L110.73 612.54L109.78 612.94L108.92 613.48L108.16 614.15L107.55 614.93L107.08 615.81L106.79 616.76L106.68 617.75L106.75 618.75L106.98 619.74L107.38 620.69L107.91 621.57L108.56 622.36L109.29 623.04L110.08 623.59L110.89 623.99L105.05 638.4" fill="none" stroke="#000" stroke-width="1.4" stroke-linejoin="round"/>
<path d="M127.95 581.9L133.81 596.31L133.81 596.31L134.68 596.04L135.62 595.88L136.62 595.85L137.64 595.96L138.64 596.22L139.58 596.63L140.44 597.18L141.19 597.85L141.8 598.64L142.25 599.52L142.53 600.47L142.63 601.47L142.56 602.47L142.32 603.46L141.91 604.41L141.37 605.29L140.72 606.07L139.98 606.74L139.19 607.28L138.38 607.68L137.59 607.93L136.85 608.04L136.2 608L135.66 607.84L135.25 607.56L135.01 607.19L134.93 606.75L135.03 606.27L135.31 605.77L135.76 605.29L136.37 604.85L137.11 604.49L137.97 604.21L138.92 604.05L139.91 604.02L140.93 604.13L141.93 604.38L142.88 604.78L143.74 605.32L144.49 606L145.11 606.78L145.56 607.66L145.85 608.61L145.96 609.6L145.89 610.61L145.65 611.6L145.25 612.55L144.72 613.43L144.07 614.21L143.33 614.89L142.54 615.43L141.73 615.84L140.94 616.09L140.2 616.2L139.54 616.17L139 616.01L138.59 615.74L138.34 615.37L138.25 614.93L138.35 614.45L138.62 613.96L139.07 613.48L139.67 613.04L140.41 612.66L141.27 612.39L142.21 612.22L143.21 612.18L144.22 612.29L145.22 612.54L146.17 612.94L147.04 613.47L147.79 614.14L148.41 614.92L148.88 615.8L149.17 616.75L149.28 617.74L149.22 618.74L148.99 619.73L148.59 620.69L148.06 621.57L147.41 622.36L146.68 623.04L145.89 623.58L145.08 623.99L150.95 638.4" fill="none" stroke="#000" stroke-width="1.4" stroke-linejoin="round"/>
<path d="M105.05 638.4L113.25 638.4L113.25 638.4L113.32 637.43L113.52 636.43L113.85 635.42L114.32 634.46L114.9 633.57L115.6 632.79L116.4 632.16L117.27 631.69L118.18 631.4L119.13 631.3L120.07 631.4L120.99 631.7L121.86 632.18L122.65 632.82L123.34 633.6L123.93 634.49L124.39 635.46L124.72 636.46L124.91 637.47L124.97 638.43L124.91 639.32L124.74 640.1L124.48 640.74L124.14 641.21L123.75 641.5L123.33 641.6L122.91 641.5L122.52 641.21L122.18 640.73L121.92 640.09L121.75 639.31L121.69 638.42L121.75 637.45L121.95 636.45L122.28 635.44L122.74 634.48L123.33 633.59L124.03 632.81L124.82 632.17L125.69 631.69L126.61 631.4L127.55 631.3L128.49 631.4L129.41 631.69L130.28 632.17L131.07 632.81L131.77 633.59L132.36 634.48L132.82 635.44L133.15 636.45L133.35 637.45L133.41 638.42L133.35 639.31L133.18 640.09L132.92 640.73L132.58 641.21L132.19 641.5L131.77 641.6L131.35 641.5L130.96 641.21L130.62 640.74L130.36 640.1L130.19 639.32L130.13 638.43L130.19 637.47L130.38 636.46L130.71 635.46L131.17 634.49L131.76 633.6L132.45 632.82L133.24 632.18L134.11 631.7L135.03 631.4L135.97 631.3L136.92 631.4L137.83 631.69L138.7 632.16L139.5 632.79L140.2 633.57L140.78 634.46L141.25 635.42L141.58 636.43L141.78 637.43L141.85 638.4L150.95 638.4" fill="none" stroke="#000" stroke-width="1.4" stroke-linejoin="round"/>
<circle cx="119.9" cy="590.9" r="1.65" fill="#444" stroke="#000" stroke-width="1.05"/>
<circle cx="149.8" cy="625.3" r="1.65" fill="#444" stroke="#000" stroke-width="1.05"/>
<circle cx="110.1" cy="634.9" r="1.65" fill="#444" stroke="#000" stroke-width="1.05"/>
<path d="M57.4 567.6H127.95V581.9" fill="none" stroke="#000" stroke-width="1.4" stroke-linejoin="round"/>
<path d="M57.4 610.2H85.6V638.4H105.05" fill="none" stroke="#000" stroke-width="1.4" stroke-linejoin="round"/>
<path d="M57.4 652.8H156.75V638.4H150.95" fill="none" stroke="#000" stroke-width="1.4" stroke-linejoin="round"/>
<path d="M213.4 581.9L207.56 596.31L207.56 596.31L206.7 596.04L205.75 595.88L204.75 595.85L203.74 595.97L202.74 596.23L201.8 596.64L200.94 597.19L200.19 597.86L199.58 598.65L199.13 599.53L198.85 600.48L198.75 601.47L198.83 602.48L199.07 603.47L199.48 604.42L200.02 605.29L200.67 606.07L201.41 606.74L202.2 607.28L203.01 607.68L203.8 607.93L204.54 608.03L205.2 608L205.74 607.83L206.14 607.56L206.39 607.19L206.46 606.75L206.36 606.27L206.08 605.77L205.63 605.29L205.02 604.85L204.28 604.49L203.42 604.21L202.47 604.05L201.47 604.02L200.46 604.13L199.46 604.39L198.52 604.79L197.65 605.33L196.9 606.01L196.29 606.79L195.83 607.67L195.55 608.62L195.44 609.61L195.51 610.62L195.75 611.61L196.15 612.55L196.69 613.43L197.34 614.22L198.08 614.89L198.87 615.43L199.68 615.84L200.47 616.09L201.21 616.2L201.87 616.17L202.41 616.01L202.82 615.74L203.07 615.37L203.15 614.93L203.06 614.45L202.78 613.95L202.34 613.47L201.73 613.03L200.99 612.66L200.13 612.39L199.19 612.22L198.2 612.19L197.18 612.29L196.18 612.54L195.23 612.94L194.37 613.48L193.61 614.15L193 614.93L192.53 615.81L192.24 616.76L192.13 617.75L192.2 618.75L192.43 619.74L192.83 620.69L193.36 621.57L194.01 622.36L194.74 623.04L195.53 623.59L196.34 623.99L190.5 638.4" fill="none" stroke="#000" stroke-width="1.4" stroke-linejoin="round"/>
<path d="M213.4 581.9L219.27 596.31L219.27 596.31L220.13 596.04L221.07 595.88L222.07 595.85L223.09 595.96L224.09 596.22L225.03 596.63L225.89 597.18L226.64 597.85L227.25 598.64L227.7 599.52L227.98 600.47L228.08 601.47L228.01 602.47L227.77 603.46L227.36 604.41L226.82 605.29L226.17 606.07L225.43 606.74L224.64 607.28L223.83 607.68L223.04 607.93L222.3 608.04L221.65 608L221.11 607.84L220.7 607.56L220.46 607.19L220.38 606.75L220.48 606.27L220.76 605.77L221.21 605.29L221.82 604.85L222.56 604.49L223.42 604.21L224.37 604.05L225.36 604.02L226.38 604.13L227.38 604.38L228.33 604.78L229.19 605.32L229.94 606L230.56 606.78L231.01 607.66L231.3 608.61L231.41 609.6L231.34 610.61L231.1 611.6L230.7 612.55L230.17 613.43L229.52 614.21L228.78 614.89L227.99 615.43L227.18 615.84L226.39 616.09L225.65 616.2L224.99 616.17L224.45 616.01L224.04 615.74L223.79 615.37L223.7 614.93L223.8 614.45L224.07 613.96L224.52 613.48L225.12 613.04L225.86 612.66L226.72 612.39L227.66 612.22L228.66 612.18L229.67 612.29L230.67 612.54L231.62 612.94L232.49 613.47L233.24 614.14L233.86 614.92L234.33 615.8L234.62 616.75L234.73 617.74L234.67 618.74L234.44 619.73L234.04 620.69L233.51 621.57L232.86 622.36L232.13 623.04L231.34 623.58L230.53 623.99L236.4 638.4" fill="none" stroke="#000" stroke-width="1.4" stroke-linejoin="round"/>
<path d="M190.5 638.4L198.7 638.4L198.7 638.4L198.77 637.43L198.97 636.43L199.3 635.42L199.77 634.46L200.35 633.57L201.05 632.79L201.85 632.16L202.72 631.69L203.63 631.4L204.58 631.3L205.52 631.4L206.44 631.7L207.31 632.18L208.1 632.82L208.79 633.6L209.38 634.49L209.84 635.46L210.17 636.46L210.36 637.47L210.42 638.43L210.36 639.32L210.19 640.1L209.93 640.74L209.59 641.21L209.2 641.5L208.78 641.6L208.36 641.5L207.97 641.21L207.63 640.73L207.37 640.09L207.2 639.31L207.14 638.42L207.2 637.45L207.4 636.45L207.73 635.44L208.19 634.48L208.78 633.59L209.48 632.81L210.27 632.17L211.14 631.69L212.06 631.4L213 631.3L213.94 631.4L214.86 631.69L215.73 632.17L216.52 632.81L217.22 633.59L217.81 634.48L218.27 635.44L218.6 636.45L218.8 637.45L218.86 638.42L218.8 639.31L218.63 640.09L218.37 640.73L218.03 641.21L217.64 641.5L217.22 641.6L216.8 641.5L216.41 641.21L216.07 640.74L215.81 640.1L215.64 639.32L215.58 638.43L215.64 637.47L215.83 636.46L216.16 635.46L216.62 634.49L217.21 633.6L217.9 632.82L218.69 632.18L219.56 631.7L220.48 631.4L221.42 631.3L222.37 631.4L223.28 631.69L224.15 632.16L224.95 632.79L225.65 633.57L226.23 634.46L226.7 635.42L227.03 636.43L227.23 637.43L227.3 638.4L236.4 638.4" fill="none" stroke="#000" stroke-width="1.4" stroke-linejoin="round"/>
<circle cx="205.35" cy="590.9" r="1.65" fill="#444" stroke="#000" stroke-width="1.05"/>
<circle cx="235.25" cy="625.3" r="1.65" fill="#444" stroke="#000" stroke-width="1.05"/>
<circle cx="195.55" cy="634.9" r="1.65" fill="#444" stroke="#000" stroke-width="1.05"/>
<path d="M284.6 567.6H213.4V581.9" fill="none" stroke="#000" stroke-width="1.4" stroke-linejoin="round"/>
<path d="M284.6 610.2H256.3V638.4H236.4" fill="none" stroke="#000" stroke-width="1.4" stroke-linejoin="round"/>
<path d="M284.6 652.8H184.9V638.4H190.5" fill="none" stroke="#000" stroke-width="1.4" stroke-linejoin="round"/>
<text transform="translate(105.6 543.8) scale(0.9690 1)" font-family="'Liberation Sans', sans-serif" font-size="11.9" font-weight="bold" stroke="#000" stroke-width="0.25" fill="#000">Transformer (Delta-Delta)</text>
<text transform="translate(63.1 563.6) scale(0.9119 1)" font-family="'Liberation Sans', sans-serif" font-size="9.6" stroke="#000" stroke-width="0.2" fill="#000">A_PRI</text>
<text transform="translate(63.1 605.6) scale(0.8975 1)" font-family="'Liberation Sans', sans-serif" font-size="9.6" stroke="#000" stroke-width="0.2" fill="#000">B_PRI</text>
<text transform="translate(62.7 648.4) scale(0.8489 1)" font-family="'Liberation Sans', sans-serif" font-size="9.6" stroke="#000" stroke-width="0.2" fill="#000">C_PRI</text>
<text transform="translate(248.5 563.3) scale(0.8638 1)" font-family="'Liberation Sans', sans-serif" font-size="9.6" stroke="#000" stroke-width="0.2" fill="#000">A_SEC</text>
<text transform="translate(249.2 605.6) scale(0.8511 1)" font-family="'Liberation Sans', sans-serif" font-size="9.6" stroke="#000" stroke-width="0.2" fill="#000">B_SEC</text>
<text transform="translate(248.5 647.8) scale(0.8371 1)" font-family="'Liberation Sans', sans-serif" font-size="9.6" stroke="#000" stroke-width="0.2" fill="#000">C_SEC</text>
<rect x="420.2" y="518.6" width="12.8" height="12.8" fill="#3c444a" fill-opacity="0.5"/>
<path d="M426.6 525L455 525" stroke="#3c444a" stroke-width="4.1" fill="none"/>
<rect x="704.2" y="518.6" width="12.8" height="12.8" fill="#3c444a" fill-opacity="0.5"/>
<path d="M710.6 525L682.2 525" stroke="#3c444a" stroke-width="4.1" fill="none"/>
<rect x="420.2" y="561.2" width="12.8" height="12.8" fill="#3c444a" fill-opacity="0.5"/>
<path d="M426.6 567.6L455 567.6" stroke="#3c444a" stroke-width="4.1" fill="none"/>
<rect x="704.2" y="561.2" width="12.8" height="12.8" fill="#3c444a" fill-opacity="0.5"/>
<path d="M710.6 567.6L682.2 567.6" stroke="#3c444a" stroke-width="4.1" fill="none"/>
<rect x="420.2" y="603.8" width="12.8" height="12.8" fill="#3c444a" fill-opacity="0.5"/>
<path d="M426.6 610.2L455 610.2" stroke="#3c444a" stroke-width="4.1" fill="none"/>
<rect x="704.2" y="603.8" width="12.8" height="12.8" fill="#3c444a" fill-opacity="0.5"/>
<path d="M710.6 610.2L682.2 610.2" stroke="#3c444a" stroke-width="4.1" fill="none"/>
<rect x="420.2" y="646.4" width="12.8" height="12.8" fill="#3c444a" fill-opacity="0.5"/>
<path d="M426.6 652.8L455 652.8" stroke="#3c444a" stroke-width="4.1" fill="none"/>
<rect x="704.2" y="646.4" width="12.8" height="12.8" fill="#3c444a" fill-opacity="0.5"/>
<path d="M710.6 652.8L682.2 652.8" stroke="#3c444a" stroke-width="4.1" fill="none"/>
<rect x="455" y="496.9" width="227.2" height="170.1" fill="#fff" stroke="#3c4658" stroke-width="4.2"/>
<path d="M527.8 525L527.8 538.4L527.8 538.4L528.33 538.4L528.89 538.5L529.47 538.73L530.04 539.08L530.57 539.54L531.05 540.11L531.45 540.77L531.77 541.5L531.98 542.29L532.09 543.12L532.08 543.95L531.96 544.77L531.73 545.56L531.4 546.28L530.98 546.93L530.49 547.48L529.95 547.93L529.38 548.26L528.81 548.47L528.25 548.56L527.73 548.54L527.26 548.41L526.87 548.2L526.58 547.92L526.38 547.58L526.3 547.22L526.34 546.85L526.48 546.5L526.73 546.19L527.09 545.94L527.52 545.78L528.02 545.71L528.57 545.75L529.14 545.91L529.71 546.19L530.27 546.59L530.78 547.1L531.23 547.71L531.6 548.4L531.87 549.16L532.04 549.97L532.1 550.8L532.04 551.63L531.87 552.44L531.6 553.2L531.23 553.89L530.78 554.5L530.27 555.01L529.71 555.41L529.14 555.69L528.57 555.85L528.02 555.89L527.52 555.82L527.09 555.66L526.73 555.41L526.48 555.1L526.34 554.75L526.3 554.38L526.38 554.02L526.58 553.68L526.87 553.4L527.26 553.19L527.73 553.06L528.25 553.04L528.81 553.13L529.38 553.34L529.95 553.67L530.49 554.12L530.98 554.67L531.4 555.32L531.73 556.04L531.96 556.83L532.08 557.65L532.09 558.48L531.98 559.31L531.77 560.1L531.45 560.83L531.05 561.49L530.57 562.06L530.04 562.52L529.47 562.87L528.89 563.1L528.33 563.2L527.8 563.2L527.8 576.1" fill="none" stroke="#000" stroke-width="1.4" stroke-linejoin="round"/>
<path d="M527.8 576.1L517.69 581.62L517.69 581.62L517.36 581.06L516.94 580.51L516.43 580L515.86 579.55L515.24 579.18L514.58 578.91L513.91 578.75L513.24 578.72L512.6 578.81L512 579.03L511.47 579.37L511.01 579.82L510.65 580.36L510.37 580.99L510.21 581.67L510.14 582.39L510.17 583.12L510.29 583.83L510.5 584.5L510.77 585.11L511.09 585.64L511.44 586.07L511.81 586.38L512.16 586.57L512.49 586.64L512.77 586.58L512.99 586.4L513.13 586.1L513.18 585.72L513.13 585.25L512.99 584.73L512.74 584.18L512.39 583.62L511.95 583.08L511.43 582.58L510.84 582.15L510.21 581.79L509.55 581.55L508.87 581.41L508.21 581.4L507.58 581.52L506.99 581.76L506.47 582.12L506.03 582.59L505.68 583.15L505.43 583.79L505.28 584.48L505.24 585.2L505.29 585.93L505.43 586.64L505.64 587.3L505.93 587.9L506.25 588.41L506.61 588.81L506.98 589.1L507.33 589.27L507.65 589.31L507.92 589.23L508.12 589.02L508.25 588.71L508.28 588.31L508.21 587.83L508.04 587.3L507.77 586.75L507.41 586.19L506.95 585.65L506.42 585.16L505.82 584.74L505.18 584.41L504.52 584.18L503.84 584.07L503.19 584.09L502.56 584.23L501.99 584.49L501.48 584.88L501.06 585.37L500.73 585.94L500.5 586.6L500.37 587.3L500.34 588.02L500.41 588.75L500.56 589.45L500.79 590.1L501.09 590.68L491.7 595.8" fill="none" stroke="#000" stroke-width="1.4" stroke-linejoin="round"/>
<path d="M527.8 576.1L538.13 581.62L538.13 581.62L538.46 581.05L538.88 580.5L539.38 579.99L539.95 579.54L540.58 579.17L541.24 578.89L541.92 578.74L542.6 578.7L543.25 578.79L543.85 579.01L544.4 579.34L544.87 579.79L545.25 580.34L545.54 580.97L545.72 581.66L545.8 582.38L545.78 583.11L545.67 583.82L545.47 584.5L545.21 585.11L544.89 585.64L544.54 586.07L544.17 586.39L543.82 586.58L543.48 586.65L543.2 586.59L542.97 586.4L542.83 586.11L542.77 585.72L542.81 585.26L542.95 584.74L543.2 584.18L543.54 583.62L543.98 583.07L544.49 582.57L545.08 582.13L545.72 581.78L546.38 581.53L547.06 581.39L547.73 581.38L548.38 581.5L548.97 581.74L549.51 582.1L549.96 582.57L550.32 583.13L550.59 583.77L550.75 584.47L550.81 585.19L550.77 585.92L550.64 586.63L550.43 587.3L550.16 587.9L549.83 588.41L549.48 588.82L549.11 589.11L548.76 589.28L548.43 589.32L548.16 589.23L547.95 589.03L547.82 588.72L547.78 588.31L547.84 587.83L548 587.3L548.26 586.75L548.63 586.19L549.08 585.65L549.61 585.15L550.21 584.73L550.85 584.4L551.52 584.17L552.2 584.05L552.87 584.07L553.51 584.21L554.09 584.47L554.61 584.85L555.05 585.34L555.39 585.93L555.64 586.58L555.78 587.28L555.82 588.01L555.76 588.74L555.62 589.44L555.39 590.09L555.11 590.68L564.7 595.8" fill="none" stroke="#000" stroke-width="1.4" stroke-linejoin="round"/>
<circle cx="531.2" cy="535.1" r="1.65" fill="#444" stroke="#000" stroke-width="1.05"/>
<circle cx="496.75" cy="588.8" r="1.65" fill="#444" stroke="#000" stroke-width="1.05"/>
<circle cx="559.53" cy="588.8" r="1.65" fill="#444" stroke="#000" stroke-width="1.05"/>
<path d="M455 525H527.8" fill="none" stroke="#000" stroke-width="1.4" stroke-linejoin="round"/>
<path d="M455 567.6H474.4V617.3H564.7V595.8" fill="none" stroke="#000" stroke-width="1.4" stroke-linejoin="round"/>
<path d="M455 610.2H491.7V595.8" fill="none" stroke="#000" stroke-width="1.4" stroke-linejoin="round"/>
<path d="M527.8 576.1V592Q527.8 594.4 526.6 596.4L495.5 652.8H455" fill="none" stroke="#000" stroke-width="1.55" stroke-linejoin="round" stroke-dasharray="2.84 1.42"/>
<path d="M609.1 525L609.1 538.4L609.1 538.4L608.57 538.4L608.01 538.5L607.43 538.73L606.86 539.08L606.33 539.54L605.85 540.11L605.45 540.77L605.13 541.5L604.92 542.29L604.81 543.12L604.82 543.95L604.94 544.77L605.17 545.56L605.5 546.28L605.92 546.93L606.41 547.48L606.95 547.93L607.52 548.26L608.09 548.47L608.65 548.56L609.17 548.54L609.64 548.41L610.03 548.2L610.32 547.92L610.52 547.58L610.6 547.22L610.56 546.85L610.42 546.5L610.17 546.19L609.81 545.94L609.38 545.78L608.88 545.71L608.33 545.75L607.76 545.91L607.19 546.19L606.63 546.59L606.12 547.1L605.67 547.71L605.3 548.4L605.03 549.16L604.86 549.97L604.8 550.8L604.86 551.63L605.03 552.44L605.3 553.2L605.67 553.89L606.12 554.5L606.63 555.01L607.19 555.41L607.76 555.69L608.33 555.85L608.88 555.89L609.38 555.82L609.81 555.66L610.17 555.41L610.42 555.1L610.56 554.75L610.6 554.38L610.52 554.02L610.32 553.68L610.03 553.4L609.64 553.19L609.17 553.06L608.65 553.04L608.09 553.13L607.52 553.34L606.95 553.67L606.41 554.12L605.92 554.67L605.5 555.32L605.17 556.04L604.94 556.83L604.82 557.65L604.81 558.48L604.92 559.31L605.13 560.1L605.45 560.83L605.85 561.49L606.33 562.06L606.86 562.52L607.43 562.87L608.01 563.1L608.57 563.2L609.1 563.2L609.1 576.1" fill="none" stroke="#000" stroke-width="1.4" stroke-linejoin="round"/>
<path d="M609.1 576.1L598.94 581.62L598.94 581.62L598.61 581.06L598.18 580.51L597.68 580L597.11 579.55L596.48 579.18L595.82 578.91L595.15 578.75L594.48 578.71L593.84 578.8L593.24 579.02L592.7 579.36L592.24 579.81L591.87 580.36L591.6 580.98L591.42 581.67L591.35 582.39L591.38 583.12L591.5 583.83L591.71 584.5L591.97 585.11L592.29 585.64L592.65 586.07L593.01 586.38L593.37 586.58L593.7 586.64L593.98 586.58L594.2 586.4L594.34 586.11L594.39 585.72L594.35 585.25L594.2 584.73L593.95 584.18L593.6 583.62L593.17 583.08L592.65 582.58L592.06 582.14L591.43 581.79L590.77 581.54L590.09 581.41L589.43 581.4L588.79 581.51L588.2 581.75L587.68 582.11L587.24 582.58L586.88 583.15L586.63 583.79L586.48 584.48L586.42 585.2L586.47 585.93L586.61 586.64L586.83 587.3L587.11 587.9L587.43 588.41L587.79 588.81L588.15 589.11L588.51 589.27L588.83 589.31L589.1 589.23L589.31 589.02L589.43 588.71L589.47 588.31L589.4 587.83L589.23 587.3L588.96 586.75L588.6 586.19L588.14 585.65L587.61 585.16L587.02 584.74L586.37 584.41L585.71 584.18L585.03 584.07L584.37 584.08L583.74 584.22L583.17 584.49L582.66 584.87L582.23 585.36L581.9 585.94L581.66 586.59L581.53 587.29L581.5 588.02L581.56 588.74L581.72 589.44L581.95 590.1L582.24 590.68L572.8 595.8" fill="none" stroke="#000" stroke-width="1.4" stroke-linejoin="round"/>
<path d="M609.1 576.1L619.38 581.62L619.38 581.62L619.7 581.05L620.12 580.5L620.63 579.99L621.2 579.54L621.83 579.17L622.49 578.9L623.17 578.74L623.84 578.7L624.49 578.79L625.09 579.01L625.63 579.35L626.1 579.8L626.48 580.35L626.76 580.97L626.94 581.66L627.01 582.38L626.99 583.11L626.88 583.83L626.68 584.5L626.41 585.11L626.09 585.64L625.74 586.07L625.38 586.39L625.02 586.58L624.69 586.65L624.4 586.58L624.18 586.4L624.04 586.11L623.98 585.72L624.02 585.26L624.17 584.74L624.41 584.18L624.76 583.62L625.2 583.08L625.71 582.57L626.3 582.14L626.93 581.78L627.6 581.53L628.28 581.4L628.95 581.39L629.59 581.5L630.18 581.74L630.71 582.1L631.16 582.57L631.52 583.14L631.78 583.78L631.94 584.47L632 585.2L631.96 585.92L631.83 586.63L631.61 587.3L631.34 587.9L631.01 588.41L630.66 588.82L630.29 589.11L629.94 589.28L629.61 589.32L629.34 589.23L629.13 589.03L629 588.72L628.96 588.31L629.02 587.83L629.19 587.3L629.45 586.75L629.82 586.19L630.27 585.65L630.8 585.16L631.4 584.73L632.04 584.4L632.71 584.17L633.39 584.06L634.06 584.07L634.69 584.21L635.27 584.48L635.79 584.86L636.22 585.35L636.56 585.93L636.8 586.58L636.94 587.28L636.98 588.01L636.92 588.74L636.77 589.44L636.55 590.1L636.26 590.68L645.8 595.8" fill="none" stroke="#000" stroke-width="1.4" stroke-linejoin="round"/>
<circle cx="605.7" cy="535.1" r="1.65" fill="#444" stroke="#000" stroke-width="1.05"/>
<circle cx="577.88" cy="588.8" r="1.65" fill="#444" stroke="#000" stroke-width="1.05"/>
<circle cx="640.66" cy="588.8" r="1.65" fill="#444" stroke="#000" stroke-width="1.05"/>
<path d="M682.2 525H609.1" fill="none" stroke="#000" stroke-width="1.4" stroke-linejoin="round"/>
<path d="M682.2 567.6H663.1V617.3H572.8V595.8" fill="none" stroke="#000" stroke-width="1.4" stroke-linejoin="round"/>
<path d="M682.2 610.2H645.8V595.8" fill="none" stroke="#000" stroke-width="1.4" stroke-linejoin="round"/>
<path d="M609.1 576.1V592Q609.1 594.4 610.3 596.4L642.1 652.8H682.2" fill="none" stroke="#000" stroke-width="1.55" stroke-linejoin="round" stroke-dasharray="2.84 1.42"/>
<text transform="translate(507 512.6) scale(0.9537 1)" font-family="'Liberation Sans', sans-serif" font-size="11.9" font-weight="bold" stroke="#000" stroke-width="0.25" fill="#000">Transformer (Wye-Wye)</text>
<text transform="translate(459.9 520.2) scale(0.8087 1)" font-family="'Liberation Sans', sans-serif" font-size="8.9" stroke="#000" stroke-width="0.2" fill="#000">A_PRI</text>
<text transform="translate(459.9 561.8) scale(0.7970 1)" font-family="'Liberation Sans', sans-serif" font-size="8.9" stroke="#000" stroke-width="0.2" fill="#000">B_PRI</text>
<text transform="translate(459.9 604.6) scale(0.7974 1)" font-family="'Liberation Sans', sans-serif" font-size="8.9" stroke="#000" stroke-width="0.2" fill="#000">C_PRI</text>
<text transform="translate(460.3 646.9) scale(0.8355 1)" font-family="'Liberation Sans', sans-serif" font-size="8.9" stroke="#000" stroke-width="0.2" fill="#000">N_PRI</text>
<text transform="translate(651 521) scale(0.7947 1)" font-family="'Liberation Sans', sans-serif" font-size="8.9" stroke="#000" stroke-width="0.2" fill="#000">A_SEC</text>
<text transform="translate(651.7 563) scale(0.7845 1)" font-family="'Liberation Sans', sans-serif" font-size="8.9" stroke="#000" stroke-width="0.2" fill="#000">B_SEC</text>
<text transform="translate(653.5 604.9) scale(0.7715 1)" font-family="'Liberation Sans', sans-serif" font-size="8.9" stroke="#000" stroke-width="0.2" fill="#000">C_SEC</text>
<text transform="translate(650 646.8) scale(0.8120 1)" font-family="'Liberation Sans', sans-serif" font-size="8.9" stroke="#000" stroke-width="0.2" fill="#000">N_SEC</text>
<rect x="803.6" y="518.6" width="12.8" height="12.8" fill="#3c444a" fill-opacity="0.5"/>
<path d="M810 525L838.4 525" stroke="#3c444a" stroke-width="4.1" fill="none"/>
<rect x="803.6" y="561.2" width="12.8" height="12.8" fill="#3c444a" fill-opacity="0.5"/>
<path d="M810 567.6L838.4 567.6" stroke="#3c444a" stroke-width="4.1" fill="none"/>
<rect x="803.6" y="603.8" width="12.8" height="12.8" fill="#3c444a" fill-opacity="0.5"/>
<path d="M810 610.2L838.4 610.2" stroke="#3c444a" stroke-width="4.1" fill="none"/>
<rect x="1087.6" y="518.6" width="12.8" height="12.8" fill="#3c444a" fill-opacity="0.5"/>
<path d="M1094 525L1065.6 525" stroke="#3c444a" stroke-width="4.1" fill="none"/>
<rect x="1087.6" y="561.2" width="12.8" height="12.8" fill="#3c444a" fill-opacity="0.5"/>
<path d="M1094 567.6L1065.6 567.6" stroke="#3c444a" stroke-width="4.1" fill="none"/>
<rect x="1087.6" y="603.8" width="12.8" height="12.8" fill="#3c444a" fill-opacity="0.5"/>
<path d="M1094 610.2L1065.6 610.2" stroke="#3c444a" stroke-width="4.1" fill="none"/>
<rect x="1087.6" y="646.4" width="12.8" height="12.8" fill="#3c444a" fill-opacity="0.5"/>
<path d="M1094 652.8L1065.6 652.8" stroke="#3c444a" stroke-width="4.1" fill="none"/>
<rect x="838.4" y="496.6" width="227.2" height="170.4" fill="#fff" stroke="#3c4658" stroke-width="4.2"/>
<path d="M838.4 525L881.1 525L881.1 544.7L881.1 553L881.1 553L882.01 553.03L882.97 553.2L883.93 553.49L884.87 553.92L885.74 554.48L886.51 555.15L887.16 555.92L887.65 556.77L887.96 557.68L888.1 558.62L888.04 559.56L887.79 560.48L887.37 561.35L886.78 562.16L886.05 562.87L885.21 563.47L884.3 563.95L883.34 564.3L882.38 564.52L881.44 564.6L880.58 564.56L879.82 564.4L879.19 564.15L878.71 563.81L878.41 563.43L878.3 563.02L878.38 562.6L878.64 562.21L879.08 561.86L879.69 561.59L880.42 561.41L881.27 561.35L882.19 561.41L883.15 561.59L884.12 561.92L885.04 562.37L885.9 562.95L886.65 563.64L887.26 564.43L887.72 565.29L888 566.21L888.1 567.15L888 568.09L887.72 569.01L887.26 569.87L886.65 570.66L885.9 571.35L885.04 571.93L884.12 572.38L883.15 572.71L882.19 572.89L881.27 572.95L880.42 572.89L879.69 572.71L879.08 572.44L878.64 572.09L878.38 571.7L878.3 571.28L878.41 570.87L878.71 570.49L879.19 570.15L879.82 569.9L880.58 569.74L881.44 569.7L882.38 569.78L883.34 570L884.3 570.35L885.21 570.83L886.05 571.43L886.78 572.14L887.37 572.95L887.79 573.82L888.04 574.74L888.1 575.68L887.96 576.62L887.65 577.53L887.16 578.38L886.51 579.15L885.74 579.82L884.87 580.38L883.93 580.81L882.97 581.1L882.01 581.27L881.1 581.3L881.1 590.6L881.1 595.7L866.6 595.7L866.6 567.6L838.4 567.6" fill="none" stroke="#000" stroke-width="1.4" stroke-linejoin="round"/>
<path d="M881.1 544.7L895.2 550.4L895.2 550.4L895.61 549.59L896.15 548.8L896.83 548.07L897.63 547.42L898.51 546.89L899.47 546.49L900.47 546.26L901.49 546.2L902.49 546.31L903.45 546.6L904.34 547.07L905.14 547.69L905.82 548.45L906.37 549.32L906.78 550.27L907.05 551.27L907.16 552.29L907.13 553.28L906.97 554.23L906.7 555.08L906.33 555.83L905.89 556.43L905.41 556.88L904.91 557.15L904.42 557.25L903.98 557.16L903.6 556.91L903.32 556.5L903.16 555.95L903.12 555.29L903.23 554.55L903.48 553.76L903.88 552.95L904.42 552.16L905.1 551.42L905.89 550.77L906.77 550.24L907.73 549.84L908.73 549.6L909.75 549.53L910.75 549.64L911.71 549.93L912.61 550.38L913.41 551L914.09 551.75L914.65 552.62L915.06 553.57L915.33 554.57L915.45 555.59L915.43 556.59L915.27 557.53L915 558.39L914.63 559.14L914.2 559.75L913.71 560.2L913.21 560.48L912.73 560.58L912.28 560.5L911.91 560.26L911.62 559.85L911.45 559.31L911.41 558.65L911.51 557.91L911.76 557.12L912.16 556.31L912.69 555.52L913.36 554.78L914.15 554.13L915.03 553.58L915.99 553.18L916.99 552.94L918 552.86L919.01 552.97L919.97 553.25L920.87 553.7L921.67 554.31L922.36 555.06L922.92 555.92L923.34 556.87L923.61 557.87L923.74 558.89L923.72 559.89L923.57 560.84L923.3 561.7L938 567.5" fill="none" stroke="#000" stroke-width="1.4" stroke-linejoin="round"/>
<path d="M938 567.5L923.3 573.2L923.3 573.2L923.58 574.06L923.73 575.01L923.76 576.01L923.64 577.03L923.38 578.03L922.97 578.98L922.41 579.85L921.72 580.61L920.92 581.23L920.03 581.69L919.06 581.98L918.06 582.1L917.04 582.03L916.03 581.8L915.07 581.41L914.18 580.87L913.39 580.23L912.71 579.49L912.16 578.71L911.76 577.9L911.5 577.11L911.4 576.37L911.43 575.72L911.6 575.17L911.88 574.76L912.26 574.51L912.7 574.43L913.19 574.53L913.69 574.8L914.18 575.25L914.63 575.85L915 576.6L915.28 577.46L915.44 578.4L915.47 579.4L915.36 580.42L915.1 581.42L914.69 582.38L914.14 583.25L913.46 584.01L912.66 584.63L911.77 585.1L910.81 585.4L909.8 585.52L908.78 585.46L907.77 585.23L906.81 584.84L905.92 584.32L905.12 583.67L904.44 582.94L903.89 582.16L903.48 581.35L903.22 580.56L903.11 579.82L903.14 579.16L903.3 578.61L903.58 578.2L903.95 577.94L904.4 577.85L904.89 577.94L905.39 578.21L905.88 578.65L906.32 579.25L906.7 579.99L906.98 580.85L907.15 581.79L907.18 582.79L907.08 583.81L906.82 584.81L906.42 585.77L905.87 586.64L905.19 587.41L904.4 588.04L903.51 588.51L902.55 588.81L901.54 588.94L900.52 588.89L899.52 588.66L898.55 588.28L897.66 587.76L896.86 587.12L896.17 586.39L895.61 585.61L895.2 584.8L881.1 590.6" fill="none" stroke="#000" stroke-width="1.4" stroke-linejoin="round"/>
<path d="M938 567.5V610.2H838.4" fill="none" stroke="#000" stroke-width="1.4" stroke-linejoin="round"/>
<circle cx="884.7" cy="550" r="1.65" fill="#444" stroke="#000" stroke-width="1.05"/>
<circle cx="928.7" cy="559.8" r="1.65" fill="#444" stroke="#000" stroke-width="1.05"/>
<circle cx="894.2" cy="589.6" r="1.65" fill="#444" stroke="#000" stroke-width="1.05"/>
<path d="M987.4 525L987.4 538.4L987.4 538.4L986.8 538.39L986.16 538.5L985.5 538.73L984.86 539.07L984.25 539.54L983.7 540.1L983.24 540.76L982.88 541.5L982.63 542.29L982.51 543.11L982.52 543.95L982.66 544.77L982.92 545.55L983.3 546.28L983.77 546.92L984.33 547.48L984.94 547.92L985.59 548.25L986.24 548.47L986.88 548.56L987.47 548.54L988 548.41L988.45 548.2L988.78 547.92L989 547.58L989.1 547.22L989.06 546.85L988.89 546.5L988.61 546.19L988.21 545.94L987.71 545.78L987.14 545.71L986.52 545.75L985.87 545.91L985.22 546.19L984.59 546.59L984 547.1L983.49 547.7L983.07 548.4L982.76 549.16L982.57 549.97L982.5 550.8L982.57 551.63L982.76 552.44L983.07 553.2L983.49 553.9L984 554.5L984.59 555.01L985.22 555.41L985.87 555.69L986.52 555.85L987.14 555.89L987.71 555.82L988.21 555.66L988.61 555.41L988.89 555.1L989.06 554.75L989.1 554.38L989 554.02L988.78 553.68L988.45 553.4L988 553.19L987.47 553.06L986.88 553.04L986.24 553.13L985.59 553.35L984.94 553.68L984.33 554.12L983.77 554.68L983.3 555.32L982.92 556.05L982.66 556.83L982.52 557.65L982.51 558.49L982.63 559.31L982.88 560.1L983.24 560.84L983.7 561.5L984.25 562.06L984.86 562.53L985.5 562.87L986.16 563.1L986.8 563.21L987.4 563.2L987.4 576.1" fill="none" stroke="#000" stroke-width="1.4" stroke-linejoin="round"/>
<path d="M987.4 576.1L975.72 581.62L975.72 581.62L975.42 581.04L975.02 580.47L974.53 579.95L973.95 579.48L973.31 579.09L972.61 578.81L971.9 578.64L971.17 578.6L970.46 578.68L969.78 578.9L969.16 579.24L968.61 579.69L968.15 580.24L967.78 580.88L967.52 581.58L967.37 582.31L967.32 583.06L967.38 583.79L967.53 584.48L967.76 585.11L968.05 585.65L968.39 586.09L968.75 586.42L969.12 586.62L969.47 586.69L969.79 586.63L970.05 586.45L970.23 586.15L970.33 585.76L970.33 585.28L970.23 584.75L970.01 584.18L969.69 583.6L969.27 583.04L968.76 582.52L968.17 582.07L967.51 581.7L966.82 581.44L966.09 581.3L965.37 581.28L964.66 581.39L964 581.63L963.39 581.99L962.85 582.46L962.41 583.04L962.06 583.69L961.82 584.39L961.69 585.13L961.67 585.87L961.74 586.6L961.91 587.28L962.15 587.89L962.45 588.42L962.8 588.84L963.16 589.14L963.53 589.32L963.88 589.36L964.18 589.28L964.43 589.07L964.6 588.76L964.68 588.34L964.66 587.85L964.53 587.31L964.3 586.74L963.96 586.17L963.52 585.61L962.99 585.1L962.39 584.67L961.72 584.32L961.02 584.08L960.29 583.96L959.57 583.96L958.87 584.1L958.21 584.36L957.62 584.75L957.1 585.24L956.67 585.83L956.35 586.49L956.13 587.21L956.02 587.95L956.01 588.69L956.11 589.41L956.29 590.08L956.54 590.68L945.7 595.8" fill="none" stroke="#000" stroke-width="1.4" stroke-linejoin="round"/>
<path d="M987.4 576.1L999.3 581.62L999.3 581.62L999.6 581.04L1000 580.47L1000.49 579.94L1001.07 579.47L1001.72 579.08L1002.41 578.8L1003.14 578.63L1003.87 578.58L1004.59 578.67L1005.28 578.88L1005.91 579.22L1006.48 579.67L1006.95 580.23L1007.33 580.87L1007.61 581.57L1007.77 582.3L1007.83 583.05L1007.78 583.78L1007.64 584.48L1007.42 585.11L1007.13 585.65L1006.79 586.1L1006.43 586.42L1006.05 586.62L1005.7 586.7L1005.38 586.64L1005.11 586.45L1004.92 586.16L1004.82 585.76L1004.81 585.28L1004.91 584.75L1005.12 584.18L1005.43 583.6L1005.85 583.04L1006.37 582.52L1006.96 582.06L1007.62 581.69L1008.32 581.43L1009.05 581.28L1009.78 581.26L1010.5 581.37L1011.18 581.61L1011.8 581.97L1012.35 582.45L1012.8 583.02L1013.16 583.67L1013.42 584.38L1013.56 585.12L1013.6 585.87L1013.53 586.6L1013.37 587.28L1013.13 587.89L1012.83 588.42L1012.49 588.84L1012.12 589.15L1011.75 589.32L1011.4 589.37L1011.09 589.29L1010.84 589.08L1010.66 588.76L1010.58 588.35L1010.59 587.86L1010.71 587.31L1010.94 586.74L1011.28 586.16L1011.71 585.61L1012.24 585.1L1012.85 584.66L1013.52 584.31L1014.23 584.07L1014.96 583.94L1015.69 583.95L1016.4 584.08L1017.07 584.35L1017.68 584.73L1018.21 585.23L1018.65 585.82L1018.99 586.48L1019.22 587.2L1019.34 587.94L1019.36 588.69L1019.28 589.41L1019.1 590.08L1018.85 590.68L1029.9 595.8" fill="none" stroke="#000" stroke-width="1.4" stroke-linejoin="round"/>
<circle cx="984" cy="535.1" r="1.65" fill="#444" stroke="#000" stroke-width="1.05"/>
<circle cx="951.54" cy="588.8" r="1.65" fill="#444" stroke="#000" stroke-width="1.05"/>
<circle cx="1023.95" cy="588.8" r="1.65" fill="#444" stroke="#000" stroke-width="1.05"/>
<path d="M1065.6 525H987.4" fill="none" stroke="#000" stroke-width="1.4" stroke-linejoin="round"/>
<path d="M1065.6 567.6H1044.5V617.3H945.7V595.8" fill="none" stroke="#000" stroke-width="1.4" stroke-linejoin="round"/>
<path d="M1065.6 610.2H1029.9V595.8" fill="none" stroke="#000" stroke-width="1.4" stroke-linejoin="round"/>
<path d="M987.4 576.1V592Q987.4 594.4 988.6 596.4L1022.5 652.8H1065.6" fill="none" stroke="#000" stroke-width="1.55" stroke-linejoin="round" stroke-dasharray="2.84 1.42"/>
<text transform="translate(856.4 645.7) scale(0.9668 1)" font-family="'Liberation Sans', sans-serif" font-size="11.9" font-weight="bold" stroke="#000" stroke-width="0.25" fill="#000">Transformer (Delta-Wye)</text>
<text transform="translate(844.5 521) scale(0.9693 1)" font-family="'Liberation Sans', sans-serif" font-size="9.5" stroke="#000" stroke-width="0.2" fill="#000">AD</text>
<text transform="translate(844.9 563) scale(0.9390 1)" font-family="'Liberation Sans', sans-serif" font-size="9.5" stroke="#000" stroke-width="0.2" fill="#000">BD</text>
<text transform="translate(844 605.3) scale(0.8814 1)" font-family="'Liberation Sans', sans-serif" font-size="9.5" stroke="#000" stroke-width="0.2" fill="#000">CD</text>
<text transform="translate(1050.2 521.7) scale(0.9858 1)" font-family="'Liberation Sans', sans-serif" font-size="9.5" stroke="#000" stroke-width="0.2" fill="#000">AY</text>
<text transform="translate(1051 563.6) scale(0.8673 1)" font-family="'Liberation Sans', sans-serif" font-size="9.5" stroke="#000" stroke-width="0.2" fill="#000">BY</text>
<text transform="translate(1050 607) scale(0.8482 1)" font-family="'Liberation Sans', sans-serif" font-size="9.5" stroke="#000" stroke-width="0.2" fill="#000">CY</text>
<text transform="translate(1050 646.8) scale(0.8785 1)" font-family="'Liberation Sans', sans-serif" font-size="9.5" stroke="#000" stroke-width="0.2" fill="#000">NY</text>
</g>
</svg>
</body>
</html>
